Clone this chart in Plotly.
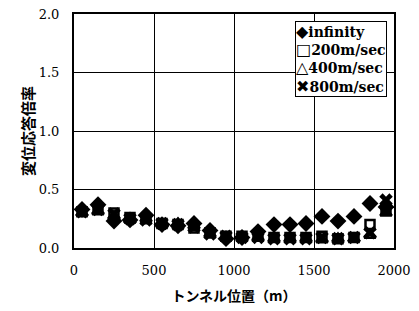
import plotly.graph_objects as go

x_pos = [50, 150, 250, 350, 450, 550, 650, 750, 850, 950,
         1050, 1150, 1250, 1350, 1450, 1550, 1650, 1750, 1850, 1950]
inf_vals = [0.33, 0.37, 0.23, 0.24, 0.28, 0.20, 0.19, 0.21, 0.15, 0.08,
            0.09, 0.14, 0.20, 0.20, 0.21, 0.27, 0.23, 0.27, 0.38, 0.35]
v200 = [0.31, 0.34, 0.30, 0.26, 0.25, 0.21, 0.20, 0.17, 0.13, 0.10,
        0.10, 0.10, 0.09, 0.09, 0.09, 0.10, 0.08, 0.09, 0.20, 0.33]
v400 = [0.30, 0.31, 0.27, 0.24, 0.25, 0.20, 0.21, 0.19, 0.12, 0.09,
        0.09, 0.09, 0.08, 0.08, 0.08, 0.07, 0.08, 0.08, 0.11, 0.30]
v800 = [0.31, 0.33, 0.29, 0.25, 0.24, 0.21, 0.20, 0.18, 0.12, 0.10,
        0.09, 0.09, 0.08, 0.08, 0.08, 0.09, 0.08, 0.09, 0.13, 0.41]

series_names = ["infinity", "200m/sec", "400m/sec", "800m/sec"]
legend_glyphs = ["◆", "□", "△", "✖"]
x_ticks = [0, 500, 1000, 1500, 2000]
y_ticks = [0.0, 0.5, 1.0, 1.5, 2.0]

fig = go.Figure()
fig.add_trace(go.Scatter(x=x_pos, y=inf_vals, mode="markers", name=series_names[0],
                         marker=dict(symbol="diamond", size=13, color="black")))
fig.add_trace(go.Scatter(x=x_pos, y=v200, mode="markers", name=series_names[1],
                         marker=dict(symbol="square-open", size=9, color="black",
                                     line=dict(width=2.5, color="black"))))
fig.add_trace(go.Scatter(x=x_pos, y=v400, mode="markers", name=series_names[2],
                         marker=dict(symbol="triangle-up-open", size=10, color="black",
                                     line=dict(width=2.5, color="black"))))
fig.add_trace(go.Scatter(x=x_pos, y=v800, mode="markers", name=series_names[3],
                         marker=dict(symbol="x", size=12, color="black",
                                     line=dict(width=0))))

legend_text = "<br>".join(
    f"<span style='font-family:DejaVu Sans;font-size:16px'>{g}</span>{n}"
    for g, n in zip(legend_glyphs, series_names))
fig.add_annotation(xref="paper", yref="paper", x=0.692, y=0.968,
                   xanchor="left", yanchor="top", showarrow=False, align="left",
                   text=legend_text, bgcolor="white", bordercolor="black",
                   borderwidth=1, borderpad=0,
                   font=dict(family="DejaVu Serif", size=14, color="black",
                             weight="bold"))

# y-axis title placed as a rotated annotation to match the reference position
fig.add_annotation(xref="paper", yref="paper", x=-0.147, y=0.5,
                   xanchor="center", yanchor="middle", showarrow=False,
                   textangle=-90, text="変位応答倍率",
                   font=dict(family="Noto Sans CJK JP", size=15, color="black",
                             weight="bold"))

tick_font = dict(family="DejaVu Serif", size=13, color="black")
fig.update_layout(
    width=419, height=311,
    margin=dict(l=74, r=25, t=14, b=63),
    paper_bgcolor="white", plot_bgcolor="white",
    showlegend=False,
    xaxis=dict(range=[0, 2000], tickvals=x_ticks, ticktext=[str(v) for v in x_ticks],
               showgrid=True, gridcolor="black", gridwidth=1,
               showline=True, linecolor="black", linewidth=2, mirror=True,
               zeroline=False, ticks="outside", ticklen=9,
               tickcolor="rgba(0,0,0,0)", tickfont=tick_font, automargin=False,
               title=dict(text="トンネル位置（m）",
                          font=dict(family="Noto Sans CJK JP", size=14, color="black",
                                    weight="bold"))),
    yaxis=dict(range=[0, 2.0], tickvals=y_ticks, ticktext=[f"{v:.1f}" for v in y_ticks],
               showgrid=True, gridcolor="black", gridwidth=1,
               showline=True, linecolor="black", linewidth=2, mirror=True,
               zeroline=False, ticks="outside", ticklen=10,
               tickcolor="rgba(0,0,0,0)", tickfont=tick_font, automargin=False),
)

fig.write_html("out.html", config={"displayModeBar": False},
               post_script="document.body.style.margin='0';")
